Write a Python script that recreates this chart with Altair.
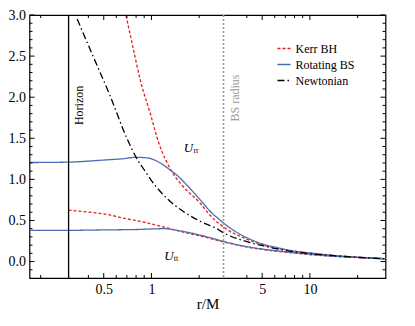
import altair as alt
import pandas as pd

# ---------------- data ----------------
models = ["Kerr BH", "Rotating BS", "Newtonian"]

kerr_rr_r = [0.66, 0.69, 0.77, 0.85, 0.98, 1.11, 1.35, 1.59, 2.03, 2.35, 2.85, 3.8, 5.1, 7.8, 13, 20, 30]
kerr_rr_u = [3.17, 3.0, 2.58, 2.21, 1.81, 1.45, 1.09, 0.91, 0.71, 0.56, 0.42, 0.29, 0.20, 0.13, 0.08, 0.055, 0.035]

kerr_tt_r = [0.3, 0.43, 0.5, 0.7, 0.8, 1.14, 1.5, 1.8, 2.35, 2.85, 3.8, 5.1, 7.8, 13, 20, 30]
kerr_tt_u = [0.625, 0.595, 0.58, 0.52, 0.50, 0.43, 0.37, 0.335, 0.28, 0.24, 0.185, 0.145, 0.105, 0.068, 0.048, 0.033]

bs_rr_r = [0.17, 0.3, 0.5, 0.65, 0.8, 0.9, 1.0, 1.1, 1.19, 1.3, 1.45, 1.75, 2.1, 2.35, 2.65, 2.85, 3.3, 3.8, 4.4, 5.1, 6.2, 7.8, 10, 13, 18, 30]
bs_rr_u = [1.205, 1.21, 1.235, 1.25, 1.268, 1.265, 1.25, 1.215, 1.175, 1.12, 1.05, 0.89, 0.72, 0.61, 0.52, 0.47, 0.38, 0.31, 0.255, 0.21, 0.17, 0.13, 0.105, 0.08, 0.058, 0.032]

bs_tt_r = [0.17, 0.3, 0.5, 0.8, 1.2, 1.5, 1.8, 2.1, 2.35, 2.85, 3.8, 5.1, 7.8, 13, 20, 30]
bs_tt_u = [0.38, 0.38, 0.385, 0.39, 0.40, 0.375, 0.345, 0.315, 0.29, 0.245, 0.19, 0.15, 0.11, 0.07, 0.05, 0.035]

newt_r = [0.34, 0.43, 0.55, 0.70, 0.81, 0.92, 0.98, 1.25, 1.59, 2.03, 2.64, 2.85, 3.8, 5.1, 7.8, 13, 20, 30]
newt_u = [2.95, 2.49, 2.01, 1.50, 1.25, 1.09, 1.01, 0.77, 0.61, 0.49, 0.39, 0.35, 0.255, 0.19, 0.12, 0.078, 0.052, 0.034]

horizon_r = [0.3]
bs_radius_r = [2.85]

x_label_vals = [0.5, 1, 5, 10]
x_minor_vals = [0.2, 0.3, 0.4, 0.6, 0.7, 0.8, 0.9, 2, 4, 6, 7, 8, 9, 20]
y_label_vals = [0.0, 0.5, 1.0, 1.5, 2.0, 2.5, 3.0]
y_minor_vals = [-0.1, 0.1, 0.2, 0.3, 0.4, 0.6, 0.7, 0.8, 0.9, 1.1, 1.2, 1.3, 1.4,
                1.6, 1.7, 1.8, 1.9, 2.1, 2.2, 2.3, 2.4, 2.6, 2.7, 2.8, 2.9]

# ---------------- build tables ----------------
rows = []
for model, comp, rs, us in [
    ("Kerr BH", "rr", kerr_rr_r, kerr_rr_u),
    ("Kerr BH", "tt", kerr_tt_r, kerr_tt_u),
    ("Rotating BS", "rr", bs_rr_r, bs_rr_u),
    ("Rotating BS", "tt", bs_tt_r, bs_tt_u),
    ("Newtonian", "n", newt_r, newt_u),
]:
    for r, u in zip(rs, us):
        rows.append({"r": r, "U": u, "model": model, "comp": model + comp})
df = pd.DataFrame(rows)

FONT = "Liberation Serif"
W, H = 356, 263

xscale = alt.Scale(type="log", domain=[0.17, 30], nice=False)
yscale = alt.Scale(domain=[-0.2, 3.0], nice=False, zero=False)

xaxis = alt.Axis(values=x_label_vals, format="~g", title="r/M", grid=False, domain=False,
                 ticks=False, labelPadding=4, labelFont=FONT, labelFontSize=14,
                 labelColor="black", titleFont=FONT, titleFontSize=15,
                 titleFontWeight="normal", titleColor="black", titlePadding=0)
yaxis = alt.Axis(values=y_label_vals, format=".1f", title=None, grid=False, domain=False,
                 ticks=False, labelPadding=4, labelFont=FONT, labelFontSize=14,
                 labelColor="black")

X = alt.X("r:Q", scale=xscale, axis=xaxis)
Y = alt.Y("U:Q", scale=yscale, axis=yaxis)

colors = ["#ee1c1c", "#4a6cb0", "#000000"]
dashes = [[3, 2], [1, 0], [7, 3, 1.5, 3]]
leg = alt.Legend(title=None, orient="none", legendX=247, legendY=26, symbolType="stroke",
                 symbolSize=170, symbolStrokeWidth=1.3, labelFont=FONT, labelFontSize=12,
                 labelColor="black", padding=0, rowPadding=2, labelOffset=4)

lines = alt.Chart(df).mark_line(clip=True, strokeWidth=1.3, interpolate="monotone").encode(
    x=X, y=Y,
    color=alt.Color("model:N", scale=alt.Scale(domain=models, range=colors), legend=leg),
    strokeDash=alt.StrokeDash("model:N", scale=alt.Scale(domain=models, range=dashes), legend=leg),
    detail="comp:N",
)

horizon = alt.Chart(pd.DataFrame({"r": horizon_r})).mark_rule(
    color="black", strokeWidth=1.3).encode(x=X)
bsline = alt.Chart(pd.DataFrame({"r": bs_radius_r})).mark_rule(
    color="#9a9a9a", strokeWidth=1.6, strokeDash=[2, 2]).encode(x=X)


def xticks(vals, length):
    d = pd.DataFrame({"r": vals})
    b = alt.Chart(d).mark_rule(color="black", strokeWidth=1).encode(
        x=X, y=alt.value(H), y2=alt.value(H - length))
    t = alt.Chart(d).mark_rule(color="black", strokeWidth=1).encode(
        x=X, y=alt.value(0), y2=alt.value(length))
    return [b, t]


def yticks(vals, length):
    d = pd.DataFrame({"U": vals})
    l = alt.Chart(d).mark_rule(color="black", strokeWidth=1).encode(
        y=Y, x=alt.value(0), x2=alt.value(length))
    r = alt.Chart(d).mark_rule(color="black", strokeWidth=1).encode(
        y=Y, x=alt.value(W), x2=alt.value(W - length))
    return [l, r]


tick_layers = (xticks(x_label_vals, 5) + xticks(x_minor_vals, 3)
               + yticks(y_label_vals, 5) + yticks(y_minor_vals, 3))

horizon_txt = alt.Chart(pd.DataFrame({"r": [0.347], "U": [1.90], "t": ["Horizon"]})).mark_text(
    angle=270, font=FONT, fontSize=12, color="black", align="center", baseline="middle"
).encode(x=X, y=Y, text="t:N")
bs_txt = alt.Chart(pd.DataFrame({"r": [3.37], "U": [1.99], "t": ["BS radius"]})).mark_text(
    angle=270, font=FONT, fontSize=12, color="#9a9a9a", align="center", baseline="middle"
).encode(x=X, y=Y, text="t:N")

u_main = alt.Chart(pd.DataFrame({"r": [1.835, 1.38], "U": [1.383, 0.066], "t": ["U", "U"]})).mark_text(
    font=FONT, fontSize=13, fontStyle="italic", color="black", align="right", baseline="middle"
).encode(x=X, y=Y, text="t:N")
u_sub = alt.Chart(pd.DataFrame({"r": [1.84, 1.385], "U": [1.35, 0.036], "t": ["rr", "tt"]})).mark_text(
    font=FONT, fontSize=8, color="black", align="left", baseline="middle"
).encode(x=X, y=Y, text="t:N")

chart = alt.layer(
    lines, horizon, bsline, *tick_layers, horizon_txt, bs_txt, u_main, u_sub
).properties(
    width=W, height=H,
    autosize=alt.AutoSizeParams(type="none"),
    padding={"left": 21.5, "top": 7, "right": 20, "bottom": 45},
).configure(font=FONT).configure_view(stroke="black", strokeWidth=1.2)

chart.save("out.html", embed_options={"renderer": "svg", "actions": False})
